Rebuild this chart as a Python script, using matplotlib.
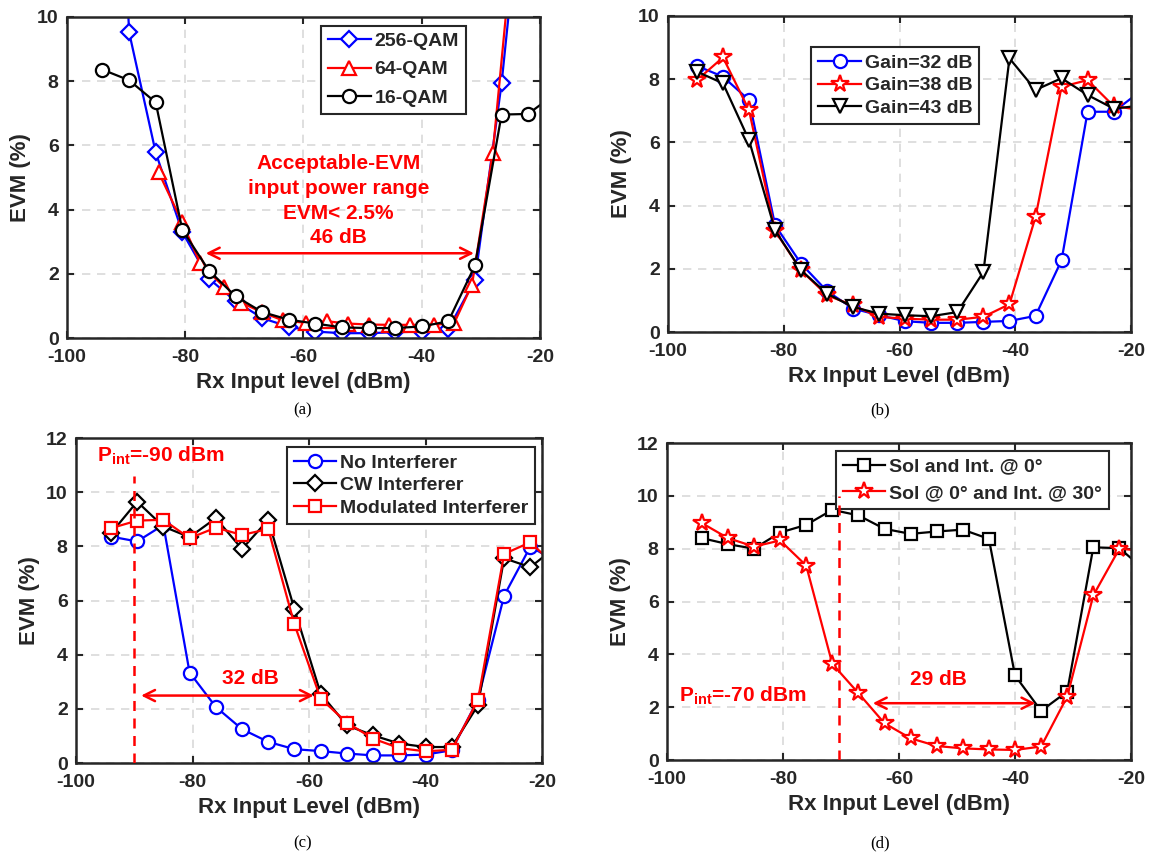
import matplotlib
matplotlib.use("Agg")
import matplotlib.pyplot as plt

plt.rcParams['font.family'] = ['Liberation Sans', 'DejaVu Sans']
plt.rcParams['font.weight'] = 'bold'
plt.rcParams['axes.unicode_minus'] = False
plt.rcParams['mathtext.fontset'] = 'custom'
plt.rcParams['mathtext.rm'] = 'Liberation Sans:bold'
plt.rcParams['mathtext.it'] = 'Liberation Sans:bold'
plt.rcParams['mathtext.bf'] = 'Liberation Sans:bold'

DARK = '#262626'

# (a) modulation order
x_a = [-94, -89.5, -85, -80.5, -76, -71.5, -67, -62.5, -58, -53.5, -49, -44.5, -40, -35.5, -31, -26.5, -22, -17.5]
qam256 = [28, 9.53, 5.78, 3.3, 1.85, 1.15, 0.62, 0.35, 0.2, 0.15, 0.15, 0.18, 0.2, 0.28, 1.81, 7.93, 16, 20]
x_64 = [-84.5, -80.5, -77.5, -73.5, -70.5, -67, -63.5, -59.5, -56, -52.5, -49, -45.5, -42, -38, -34.5, -31.5, -28, -24.5]
qam64 = [5.16, 3.6, 2.33, 1.6, 1.1, 0.8, 0.55, 0.47, 0.52, 0.45, 0.42, 0.41, 0.41, 0.41, 0.47, 1.66, 5.75, 12.5]
qam16 = [8.36, 8.03, 7.34, 3.37, 2.10, 1.30, 0.81, 0.57, 0.45, 0.33, 0.31, 0.31, 0.36, 0.52, 2.26, 6.96, 6.98, 7.6]

# (b) gain settings
x_b = [-95, -90.5, -86, -81.5, -77, -72.5, -68, -63.5, -59, -54.5, -50, -45.5, -41, -36.5, -32, -27.5, -23, -18.5]
gain32 = [8.42, 8.08, 7.34, 3.38, 2.16, 1.29, 0.74, 0.53, 0.34, 0.29, 0.29, 0.32, 0.35, 0.51, 2.27, 6.97, 6.97, 7.6]
gain38 = [7.97, 8.69, 7.02, 3.2, 1.95, 1.16, 0.84, 0.48, 0.42, 0.39, 0.39, 0.48, 0.88, 3.64, 7.76, 7.97, 7.15, 7.03]
gain43 = [8.24, 7.87, 6.07, 3.22, 1.95, 1.21, 0.79, 0.58, 0.53, 0.50, 0.63, 1.9, 8.66, 7.66, 8.03, 7.5, 7.07, 7.16]

# (c) interferer type
x_c = [-94, -89.5, -85, -80.5, -76, -71.5, -67, -62.5, -58, -53.5, -49, -44.5, -40, -35.5, -31, -26.5, -22, -17.5]
no_int = [8.36, 8.18, 8.79, 3.34, 2.07, 1.25, 0.78, 0.51, 0.44, 0.35, 0.28, 0.28, 0.31, 0.47, 2.34, 6.18, 7.99, 7.43]
cw_int = [8.48, 9.65, 8.73, 8.34, 9.04, 7.9, 8.98, 5.68, 2.56, 1.39, 1.02, 0.72, 0.59, 0.59, 2.13, 7.56, 7.23, 8.0]
mod_int = [8.67, 8.95, 8.98, 8.3, 8.69, 8.42, 8.64, 5.12, 2.38, 1.49, 0.9, 0.55, 0.43, 0.49, 2.32, 7.72, 8.15, 7.23]

# (d) interferer angle
x_d = [-94, -89.5, -85, -80.5, -76, -71.5, -67, -62.5, -58, -53.5, -49, -44.5, -40, -35.5, -31, -26.5, -22, -17.5]
sol_int0 = [8.40, 8.17, 8.0, 8.61, 8.9, 9.47, 9.26, 8.75, 8.56, 8.65, 8.72, 8.37, 3.2, 1.86, 2.59, 8.05, 8.02, 7.17]
sol_int30 = [8.97, 8.4, 8.08, 8.31, 7.36, 3.64, 2.53, 1.39, 0.82, 0.53, 0.44, 0.40, 0.38, 0.51, 2.4, 6.23, 8.0, 7.91]

W, H = 1149, 855
fig = plt.figure(figsize=(W / 100, H / 100), dpi=100)


def make_axes(x0, y0, x1, y1):
    return fig.add_axes([x0 / W, (H - y1) / H, (x1 - x0) / W, (y1 - y0) / H])


def style(ax, ymax, xlabel):
    ax.set_xlim(-100, -20)
    ax.set_ylim(0, ymax)
    ax.set_xticks([-100, -80, -60, -40, -20])
    ax.set_yticks(range(0, ymax + 1, 2))
    ax.grid(True, color='#d9d9d9', linestyle=(0, (5, 4)), linewidth=1.2)
    ax.set_axisbelow(True)
    ax.tick_params(direction='in', top=True, right=True, length=5, width=1.5,
                   labelsize=14, pad=6, colors=DARK)
    ax.tick_params(axis='x', pad=8)
    for s in ax.spines.values():
        s.set_linewidth(1.8)
        s.set_color(DARK)
    ax.set_xlabel(xlabel, fontsize=16, fontweight='bold', color=DARK, labelpad=4)
    ax.set_ylabel('EVM (%)', fontsize=16, fontweight='bold', color=DARK, labelpad=4)


def legend(ax, cx, cy, spacing):
    lg = ax.legend(loc='center', bbox_to_anchor=(cx, cy), fontsize=14, frameon=True,
                   fancybox=False, edgecolor=DARK, framealpha=1, handlelength=2.2,
                   handletextpad=0.2, borderpad=0.35, labelspacing=spacing)
    lg.get_frame().set_linewidth(1.5)
    for t in lg.get_texts():
        t.set_color(DARK)
    return lg


lk = dict(linewidth=1.6, markeredgewidth=1.6, markerfacecolor='white')
arrow = dict(arrowstyle='<->', color='red', lw=1.8, mutation_scale=20)

# ---- (a)
ax = make_axes(67, 17, 540, 338)
ax.plot(x_a[:17], qam256[:17], color='#0000ff', marker='D', markersize=8, label='256-QAM', **lk)
ax.plot(x_64, qam64, color='#ff0000', marker='^', markersize=10, label='64-QAM', **lk)
ax.plot(x_a, qam16, color='black', marker='o', markersize=9.5, label='16-QAM', **lk)
style(ax, 10, 'Rx Input level (dBm)')
legend(ax, 0.690, 0.836, 0.55)
ax.annotate('', xy=(-77, 2.64), xytext=(-30.7, 2.64), arrowprops=arrow)
ax.text(-54.1, 4.27, 'Acceptable-EVM\ninput power range\nEVM< 2.5%\n46 dB', color='red',
        fontsize=15, fontweight='bold', ha='center', va='center', linespacing=1.38)

# ---- (b)
ax = make_axes(668, 16, 1131, 332)
ax.plot(x_b, gain32, color='#0000ff', marker='o', markersize=9.5, label='Gain=32 dB', **lk)
ax.plot(x_b, gain38, color='#ff0000', marker='*', markersize=13, label='Gain=38 dB', **lk)
ax.plot(x_b, gain43, color='black', marker='v', markersize=10, label='Gain=43 dB', **lk)
style(ax, 10, 'Rx Input Level (dBm)')
legend(ax, 0.491, 0.780, 0.25)

# ---- (c)
ax = make_axes(76, 438, 542, 763)
ax.plot(x_c, no_int, color='#0000ff', marker='o', markersize=9.5, label='No Interferer', **lk)
ax.plot(x_c, cw_int, color='black', marker='D', markersize=8, label='CW Interferer', **lk)
ax.plot(x_c, mod_int, color='#ff0000', marker='s', markersize=8, label='Modulated Interferer', **lk)
style(ax, 12, 'Rx Input Level (dBm)')
legend(ax, 0.719, 0.854, 0.25)
ax.plot([-90, -90], [0, 10.6], color='red', linestyle=(0, (4, 3)), linewidth=1.8, zorder=6)
ax.text(-96.4, 11.13, r'P$_{\mathrm{int}}$=-90 dBm', color='red', fontsize=15,
        fontweight='bold', ha='left', va='baseline')
ax.annotate('', xy=(-89.3, 2.49), xytext=(-58.7, 2.49), arrowprops=arrow)
ax.text(-70.1, 3.13, '32 dB', color='red', fontsize=15, fontweight='bold',
        ha='center', va='center')

# ---- (d)
ax = make_axes(667, 443, 1131, 760)
ax.plot(x_d, sol_int0, color='black', marker='s', markersize=8, label='Sol and Int. @ 0°', **lk)
ax.plot(x_d, sol_int30, color='#ff0000', marker='*', markersize=13, label='Sol @ 0° and Int. @ 30°', **lk)
style(ax, 12, 'Rx Input Level (dBm)')
legend(ax, 0.658, 0.883, 0.45)
ax.plot([-70.3, -70.3], [0, 10.0], color='red', linestyle=(0, (4, 3)), linewidth=1.8, zorder=6)
ax.text(-97.9, 2.21, r'P$_{\mathrm{int}}$=-70 dBm', color='red', fontsize=15,
        fontweight='bold', ha='left', va='baseline')
ax.annotate('', xy=(-65.0, 2.15), xytext=(-36.0, 2.15), arrowprops=arrow)
ax.text(-53.2, 3.05, '29 dB', color='red', fontsize=15, fontweight='bold',
        ha='center', va='center')

# captions
for cx, cy, lab in [(303, 410, '(a)'), (880, 410, '(b)'), (303, 843, '(c)'), (880, 843, '(d)')]:
    fig.text(cx / W, 1 - cy / H, lab, fontsize=12, fontweight='normal',
             family=['Liberation Serif', 'DejaVu Serif'], ha='center', va='center', color='black')

fig.savefig('out.png', dpi=100)
